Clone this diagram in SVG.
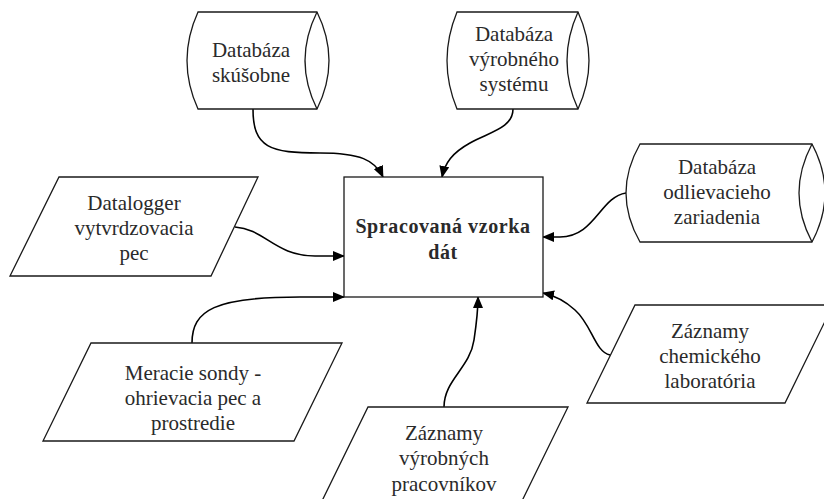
<svg xmlns="http://www.w3.org/2000/svg" width="824" height="499" viewBox="0 0 824 499">
<style>
.shape{fill:#fff;stroke:#1a1a1a;stroke-width:1.3}
.conn{fill:none;stroke:#000;stroke-width:1.6;marker-end:url(#arr)}
text{font-family:"Liberation Serif","Times New Roman",serif;font-size:21px;fill:#2a2a2a;text-anchor:middle}
.bold{font-weight:bold;font-size:20px;letter-spacing:0.6px}
</style>
<defs>
<marker id="arr" viewBox="0 0 12 10" refX="11" refY="5" markerWidth="12" markerHeight="10" markerUnits="userSpaceOnUse" orient="auto">
<path d="M0,0 L12,5 L0,10 z" fill="#000"/>
</marker>
</defs>
<rect width="824" height="499" fill="#fff"/>
<g id="connectors">
<path class="conn" d="M253,109 C253,148 270,153 320,153 C360,153 375,160 383,177"/>
<path class="conn" d="M513,109 C513,128 490,132 470,143 C452,153 445,163 442,177"/>
<path class="conn" d="M626,193 C600,197 595,237 560,237 L543,237"/>
<path class="conn" d="M235,227 C265,229 275,256 315,256 L344,256"/>
<path class="conn" d="M192,343 C192,310 215,297 300,297 L344,297"/>
<path class="conn" d="M444,407 C444,380 470,368 474,340 C477,320 478,310 478,297"/>
<path class="conn" d="M610,355 C595,352 592,325 575,310 C563,299 552,295 543,293"/>
</g>
<g id="db-skusobne">
<path class="shape" d="M198,12 L317,12 Q341,60.5 317,109 L198,109 Q176,60.5 198,12 Z"/>
<path class="shape" d="M317,12 Q293,60.5 317,109"/>
<text x="251" y="57">Databáza</text>
<text x="251" y="82">skúšobne</text>
</g>
<g id="db-vyrobneho">
<path class="shape" d="M457,12 L578,12 Q600,60.5 578,109 L457,109 Q437,60.5 457,12 Z"/>
<path class="shape" d="M578,12 Q556,60.5 578,109"/>
<text x="514" y="41">Databáza</text>
<text x="514" y="66">výrobného</text>
<text x="514" y="91">systému</text>
</g>
<g id="db-odlievacieho">
<path class="shape" d="M640,144 L812,144 Q838,193 812,242 L640,242 Q612,193 640,144 Z"/>
<path class="shape" d="M812,144 Q786,193 812,242"/>
<text x="717" y="174">Databáza</text>
<text x="717" y="199">odlievacieho</text>
<text x="717" y="224">zariadenia</text>
</g>
<g id="datalogger">
<path class="shape" d="M59,177 L258,177 L211,276 L10,276 Z"/>
<text x="134" y="210">Datalogger</text>
<text x="134" y="235">vytvrdzovacia</text>
<text x="134" y="260">pec</text>
</g>
<g id="vzorka">
<rect class="shape" x="344" y="177" width="199" height="120"/>
<text class="bold" x="443" y="233">Spracovaná vzorka</text>
<text class="bold" x="443" y="259">dát</text>
</g>
<g id="meracie">
<path class="shape" d="M91,343 L342,343 L294,441 L43,441 Z"/>
<text x="193" y="380">Meracie sondy -</text>
<text x="193" y="405">ohrievacia pec a</text>
<text x="193" y="430">prostredie</text>
</g>
<g id="zaznamy-pracovnikov">
<path class="shape" d="M368,407 L568,407 L520,505 L320,505 Z"/>
<text x="444" y="440">Záznamy</text>
<text x="444" y="465">výrobných</text>
<text x="444" y="491">pracovníkov</text>
</g>
<g id="zaznamy-laboratoria">
<path class="shape" d="M635,305 L833,305 L785,403 L587,403 Z"/>
<text x="710" y="338">Záznamy</text>
<text x="710" y="363">chemického</text>
<text x="710" y="388">laboratória</text>
</g>
</svg>
